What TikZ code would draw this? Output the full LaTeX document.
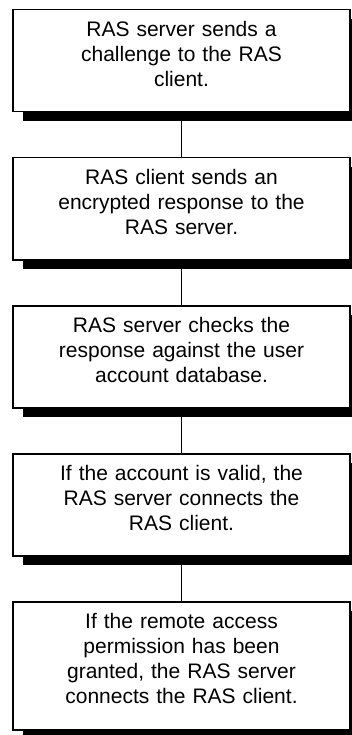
\documentclass[tikz,border=0pt]{standalone}
\usepackage{fontspec}
\setmainfont{Liberation Sans}
\usetikzlibrary{positioning, shadows}

\tikzset{
  stepbox/.style={draw, line width=1.5pt, fill=white, minimum width=337pt,
    text width=320pt, align=center, inner sep=0pt,
    text height=27pt, text depth=75pt, font=\fontsize{21}{25}\selectfont,
    drop shadow={shadow xshift=10pt, shadow yshift=-9pt, fill=black, opacity=1}},
  link/.style={line width=1.5pt}
}

\begin{document}
\begin{tikzpicture}[x=1pt, y=1pt]
  \useasboundingbox (0,0) rectangle (351,-735);
  \node[stepbox, anchor=north] (box1) at (181.5,-9)
    {RAS server sends a\\challenge to the RAS\\client.};
  \node[stepbox, below=44.5pt of box1] (box2)
    {RAS client sends an\\encrypted response to the\\RAS server.};
  \node[stepbox, below=44.5pt of box2] (box3)
    {RAS server checks the\\response against the user\\account database.};
  \node[stepbox, below=44.5pt of box3] (box4)
    {If the account is valid, the\\RAS server connects the\\RAS client.};
  \node[stepbox, text depth=101pt, below=44.5pt of box4] (box5)
    {If the remote access\\permission has been\\granted, the RAS server\\connects the RAS client.};
  \foreach \i/\j in {1/2,2/3,3/4,4/5}
    \draw[link] (box\i.south) -- (box\j.north);
\end{tikzpicture}
\end{document}
